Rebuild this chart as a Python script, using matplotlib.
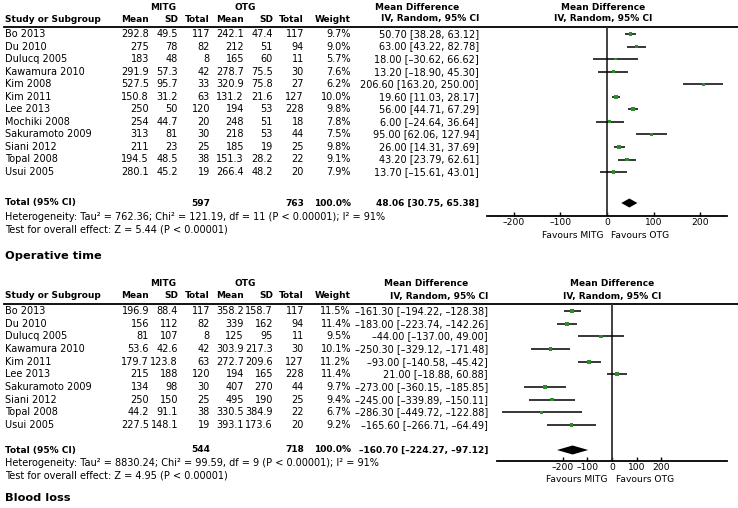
import numpy as np
import matplotlib
matplotlib.use("Agg")
import matplotlib.pyplot as plt

# ---- panel 1 data (no title shown above it) ----
studies1 = ["Bo 2013", "Du 2010", "Dulucq 2005", "Kawamura 2010", "Kim 2008", "Kim 2011",
            "Lee 2013", "Mochiki 2008", "Sakuramoto 2009", "Siani 2012", "Topal 2008", "Usui 2005"]
mitg_mean1 = ["292.8", "275", "183", "291.9", "527.5", "150.8", "250", "254", "313", "211", "194.5", "280.1"]
mitg_sd1 = ["49.5", "78", "48", "57.3", "95.7", "31.2", "50", "44.7", "81", "23", "48.5", "45.2"]
mitg_n1 = [117, 82, 8, 42, 33, 63, 120, 20, 30, 25, 38, 19]
otg_mean1 = ["242.1", "212", "165", "278.7", "320.9", "131.2", "194", "248", "218", "185", "151.3", "266.4"]
otg_sd1 = ["47.4", "51", "60", "75.5", "75.8", "21.6", "53", "51", "53", "19", "28.2", "48.2"]
otg_n1 = [117, 94, 11, 30, 27, 127, 228, 18, 44, 25, 22, 20]
weight1 = [9.7, 9.0, 5.7, 7.6, 6.2, 10.0, 9.8, 7.8, 7.5, 9.8, 9.1, 7.9]
md1 = [50.70, 63.00, 18.00, 13.20, 206.60, 19.60, 56.00, 6.00, 95.00, 26.00, 43.20, 13.70]
lo1 = [38.28, 43.22, -30.62, -18.90, 163.20, 11.03, 44.71, -24.64, 62.06, 14.31, 23.79, -15.61]
hi1 = [63.12, 82.78, 66.62, 45.30, 250.00, 28.17, 67.29, 36.64, 127.94, 37.69, 62.61, 43.01]
total1 = (597, 763, 48.06, 30.75, 65.38)
het1 = "Heterogeneity: Tau² = 762.36; Chi² = 121.19, df = 11 (P < 0.00001); I² = 91%"
test1 = "Test for overall effect: Z = 5.44 (P < 0.00001)"

# ---- panel 2 data: Operative time ----
studies2 = ["Bo 2013", "Du 2010", "Dulucq 2005", "Kawamura 2010", "Kim 2011", "Lee 2013",
            "Sakuramoto 2009", "Siani 2012", "Topal 2008", "Usui 2005"]
mitg_mean2 = ["196.9", "156", "81", "53.6", "179.7", "215", "134", "250", "44.2", "227.5"]
mitg_sd2 = ["88.4", "112", "107", "42.6", "123.8", "188", "98", "150", "91.1", "148.1"]
mitg_n2 = [117, 82, 8, 42, 63, 120, 30, 25, 38, 19]
otg_mean2 = ["358.2", "339", "125", "303.9", "272.7", "194", "407", "495", "330.5", "393.1"]
otg_sd2 = ["158.7", "162", "95", "217.3", "209.6", "165", "270", "190", "384.9", "173.6"]
otg_n2 = [117, 94, 11, 30, 127, 228, 44, 25, 22, 20]
weight2 = [11.5, 11.4, 9.5, 10.1, 11.2, 11.4, 9.7, 9.4, 6.7, 9.2]
md2 = [-161.30, -183.00, -44.00, -250.30, -93.00, 21.00, -273.00, -245.00, -286.30, -165.60]
lo2 = [-194.22, -223.74, -137.00, -329.12, -140.58, -18.88, -360.15, -339.89, -449.72, -266.71]
hi2 = [-128.38, -142.26, 49.00, -171.48, -45.42, 60.88, -185.85, -150.11, -122.88, -64.49]
total2 = (544, 718, -160.70, -224.27, -97.12)
het2 = "Heterogeneity: Tau² = 8830.24; Chi² = 99.59, df = 9 (P < 0.00001); I² = 91%"
test2 = "Test for overall effect: Z = 4.95 (P < 0.00001)"

ticks = [-200, -100, 0, 100, 200]

W, H = 738, 508
FS = 7.0     # regular table text
FSB = 6.5    # bold text (DejaVu bold runs wide)
GREEN = "#2a8f2a"
DASH = "\u2013"

fig = plt.figure(figsize=(W / 100, H / 100), dpi=100)
ax = fig.add_axes([0, 0, 1, 1])
ax.set_xlim(0, W)
ax.set_ylim(H, 0)
ax.axis("off")


def fmt(v):
    return f"{v:.2f}".replace("-", DASH)


def ci_text(m, l, h):
    return f"{fmt(m)} [{fmt(l)}, {fmt(h)}]"


def panel(studies, mmean, msd, mn, omean, osd, on, wt, md, lo, hi, total, het, test,
          y_grp, y_first, step, y_total, y_axis, md_right, xlim, plot_x, hdr_x):
    y_hdr = y_grp + 12
    y_rule = y_hdr + 7.5
    cols = [149, 178, 210, 244, 273, 304, 351]
    kw = dict(fontsize=FS, va="center")
    bold = dict(fontsize=FSB, va="center", fontweight="bold")

    # group headers
    ax.text(163, y_grp, "MITG", ha="center", **bold)
    ax.text(245, y_grp, "OTG", ha="center", **bold)
    ax.text(md_right - 62, y_grp, "Mean Difference", ha="center", **bold)
    ax.text(hdr_x, y_grp, "Mean Difference", ha="center", **bold)

    ax.text(5, y_hdr, "Study or Subgroup", ha="left", **bold)
    for x, lab in zip(cols, ["Mean", "SD", "Total", "Mean", "SD", "Total", "Weight"]):
        ax.text(x, y_hdr, lab, ha="right", **bold)
    ax.text(md_right, y_hdr, "IV, Random, 95% CI", ha="right", **bold)
    ax.text(hdr_x, y_hdr, "IV, Random, 95% CI", ha="center", **bold)
    ax.plot([4, W], [y_rule, y_rule], color="black", lw=1.3)

    ys = y_first + step * np.arange(len(studies))
    for i, y in enumerate(ys):
        ax.text(5, y, studies[i], ha="left", **kw)
        vals = [mmean[i], msd[i], str(mn[i]), omean[i], osd[i], str(on[i]), f"{wt[i]:.1f}%"]
        for x, v in zip(cols, vals):
            ax.text(x, y, v, ha="right", **kw)
        ax.text(md_right, y, ci_text(md[i], lo[i], hi[i]), ha="right", **kw)

    ax.text(5, y_total, "Total (95% CI)", ha="left", **bold)
    ax.text(cols[2], y_total, str(total[0]), ha="right", **bold)
    ax.text(cols[5], y_total, str(total[1]), ha="right", **bold)
    ax.text(cols[6], y_total, "100.0%", ha="right", **bold)
    ax.text(md_right, y_total, ci_text(*total[2:]), ha="right", **bold)
    ax.text(5, y_total + 13.5, het, ha="left", **kw)
    ax.text(5, y_total + 26, test, ha="left", **kw)

    # forest plot axes, y in pixel units
    x0, x1 = plot_x
    fa = fig.add_axes([x0 / W, 1 - y_axis / H, (x1 - x0) / W, (y_axis - y_rule) / H])
    fa.set_xlim(*xlim)
    fa.set_ylim(y_axis, y_rule)
    fa.patch.set_alpha(0)
    for s in ["top", "left", "right"]:
        fa.spines[s].set_visible(False)
    fa.spines["bottom"].set_linewidth(1.3)
    fa.set_yticks([])
    fa.set_xticks(ticks)
    fa.set_xticklabels([str(t).replace("-", DASH) for t in ticks], fontsize=6.6)
    fa.tick_params(axis="x", direction="in", length=3, width=1, pad=1.5)
    fa.axvline(0, color="#333333", lw=1.3)
    fa.hlines(ys, lo, hi, color="black", lw=1.1)
    fa.scatter(md, ys, marker="s", s=[w * 0.7 for w in wt], color=GREEN, zorder=3, linewidths=0)
    m, l, h = total[2:]
    fa.fill([l, m, h, m], [y_total, y_total - 4.5, y_total, y_total + 4.5], color="black", lw=0)

    # favours labels under the axis
    zero_px = x0 + (0 - xlim[0]) / (xlim[1] - xlim[0]) * (x1 - x0)
    ax.text(zero_px - 4, y_axis + 19, "Favours MITG", ha="right", fontsize=6.6, va="center")
    ax.text(zero_px + 4, y_axis + 19, "Favours OTG", ha="left", fontsize=6.6, va="center")


panel(studies1, mitg_mean1, mitg_sd1, mitg_n1, otg_mean1, otg_sd1, otg_n1, weight1,
      md1, lo1, hi1, total1, het1, test1,
      y_grp=7, y_first=34, step=12.55, y_total=203, y_axis=216, md_right=479,
      xlim=(-258, 258), plot_x=(487, 727), hdr_x=603)

ax.text(5, 256, "Operative time", ha="left", va="center", fontsize=8.2, fontweight="bold")

panel(studies2, mitg_mean2, mitg_sd2, mitg_n2, otg_mean2, otg_sd2, otg_n2, weight2,
      md2, lo2, hi2, total2, het2, test2,
      y_grp=284, y_first=311, step=12.67, y_total=450, y_axis=461, md_right=488,
      xlim=(-469, 469), plot_x=(497, 727), hdr_x=612)

ax.text(5, 498, "Blood loss", ha="left", va="center", fontsize=8.2, fontweight="bold")

fig.savefig("out.png", dpi=100)
